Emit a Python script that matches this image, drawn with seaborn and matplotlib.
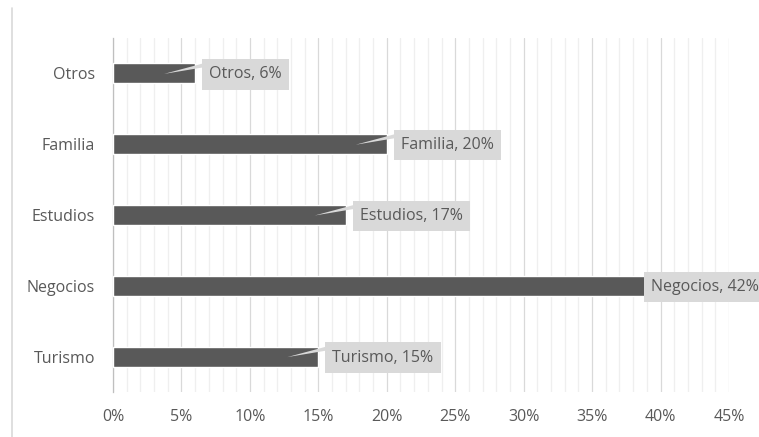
import numpy as np
import matplotlib
matplotlib.use("Agg")
import matplotlib.pyplot as plt
from matplotlib.lines import Line2D
from matplotlib.patches import Polygon
from matplotlib.ticker import MultipleLocator, PercentFormatter
import seaborn as sns

# Motivo de viaje (share of travellers)
categories = ["Otros", "Familia", "Estudios", "Negocios", "Turismo"]
shares = [0.06, 0.20, 0.17, 0.42, 0.15]
value_labels = ["Otros, 6%", "Familia, 20%", "Estudios, 17%", "Negocios, 42%", "Turismo, 15%"]

sns.set_theme(style="white")
plt.rcParams["font.family"] = ["Open Sans", "DejaVu Sans"]

W, H, DPI = 759, 437, 100
fig = plt.figure(figsize=(W / DPI, H / DPI), dpi=DPI)
x0, x1, y0, y1 = 113, 729, 38, 392
ax = fig.add_axes([x0 / W, 1 - y1 / H, (x1 - x0) / W, (y1 - y0) / H])

BAR = "#595959"
TXT = "#595959"
BOX = "#d9d9d9"
AXC = "#bfbfbf"
FS = 11.5

sns.barplot(x=shares, y=categories, orient="h", color=BAR, width=0.28,
            saturation=1, ax=ax, zorder=3)

xmax = 0.45
ax.set_xlim(0, xmax)
ax.set_ylim(len(categories) - 0.5, -0.5)
ax.xaxis.set_major_locator(MultipleLocator(0.05))
ax.xaxis.set_minor_locator(MultipleLocator(0.01))
ax.xaxis.set_major_formatter(PercentFormatter(1, decimals=0))
ax.grid(axis="x", which="major", color="#d9d9d9", lw=0.9, zorder=0)
ax.grid(axis="x", which="minor", color="#efefef", lw=0.9, zorder=0)
ax.grid(axis="y", visible=False)
ax.set_axisbelow(True)

ax.set_yticks(np.arange(-0.5, len(categories)), minor=True)
ax.tick_params(axis="y", which="major", length=0, pad=13, labelsize=FS, labelcolor=TXT)
ax.tick_params(axis="y", which="minor", length=6, width=0.9, color=AXC, direction="out")
ax.tick_params(axis="x", which="both", length=0, pad=12, labelsize=FS, labelcolor=TXT)
ax.set_xlabel("")
ax.set_ylabel("")

for side in ["top", "right", "bottom"]:
    ax.spines[side].set_visible(False)
ax.spines["left"].set_color(AXC)
ax.spines["left"].set_linewidth(0.9)

# pixel -> data conversions for the callouts
px_x = xmax / (x1 - x0)
px_y = len(categories) / (y1 - y0)

for i, (v, lab) in enumerate(zip(shares, value_labels)):
    inside = v + 130 * px_x > xmax
    if inside:
        shift = -45
    else:
        shift = 6
    ax.annotate(lab, xy=(v, i), xytext=(shift + 8, -1), textcoords="offset pixels",
                ha="left", va="center", fontsize=FS, color=TXT, zorder=6,
                bbox=dict(boxstyle="square,pad=0.45", fc=BOX, ec="none"),
                annotation_clip=False)
    if not inside:
        wedge = Polygon([(v + 8 * px_x, i - 10 * px_y),
                         (v + 8 * px_x, i - 6 * px_y),
                         (v - 31 * px_x, i + 0.5 * px_y)],
                        closed=True, fc=BOX, ec="none", zorder=5)
        ax.add_patch(wedge)

fig.add_artist(Line2D([12 / W, 12 / W], [0, 1 - 8 / H], transform=fig.transFigure,
                      color="#d9d9d9", lw=1.2))

fig.savefig("out.png", dpi=DPI, facecolor="white")
